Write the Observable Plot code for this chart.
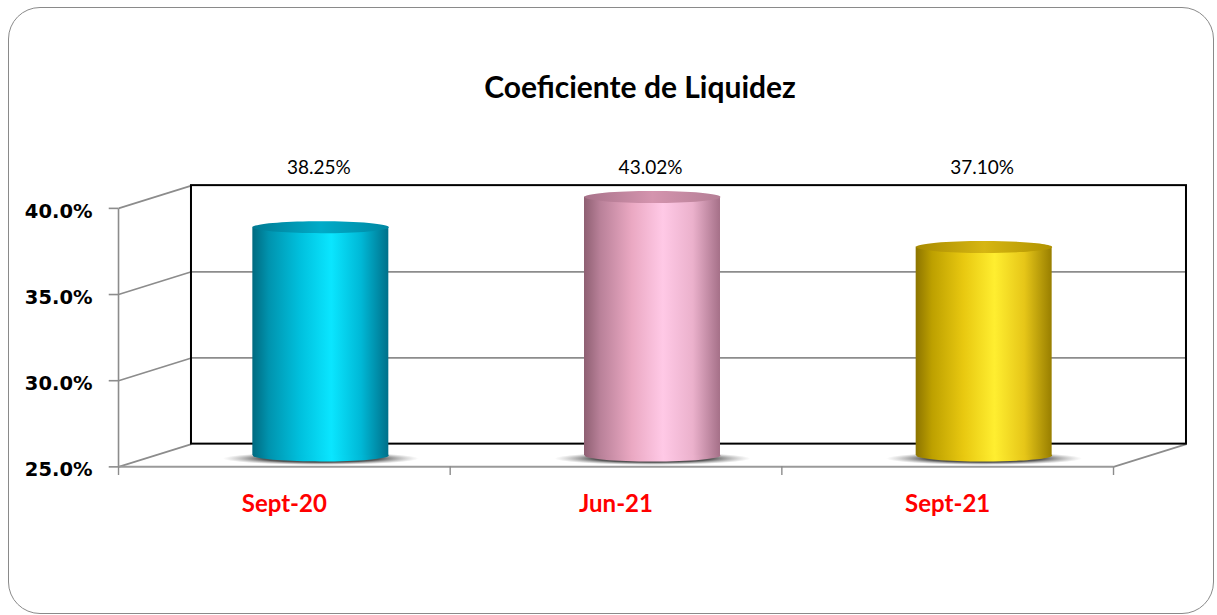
<!DOCTYPE html>
<html>
<head>
<meta charset="utf-8">
<script src="https://cdn.jsdelivr.net/npm/d3@7"></script>
<script src="https://cdn.jsdelivr.net/npm/@observablehq/plot@0.6"></script>
<style>
  html, body { margin: 0; padding: 0; background: #fff; }
  #wrap { position: relative; width: 1217px; height: 615px; overflow: hidden; background: #fff; }
  #frame { position: absolute; left: 8px; top: 7px; width: 1206px; height: 607px; box-sizing: border-box;
           border: 1.5px solid #8a8a8a; border-radius: 32px; }
  #chart { position: absolute; left: 0; top: 0; }
  #title { position: absolute; left: 0; top: 68px; width: 1280px; text-align: center;
           font-family: Lato, "Open Sans", sans-serif; font-weight: bold; font-size: 30px; line-height: 36px; color: #000; }
</style>
</head>
<body>
<div id="wrap">
  <div id="frame"></div>
  <div id="chart"></div>
  <div id="title">Coeficiente de Liquidez</div>
</div>
<script>
// ---- data ----
const categories = ["Sept-20", "Jun-21", "Sept-21"];
const values = [38.25, 43.02, 37.10];
const valueLabels = ["38.25%", "43.02%", "37.10%"];
const yTicks = [25, 30, 35, 40];
const yTickLabels = ["25.0%", "30.0%", "35.0%", "40.0%"];
const Y_MIN = 25, Y_MAX = 40;

// ---- styles ----
const bodyStops = [
  [[0, "#006a80"], [0.12, "#0093ae"], [0.35, "#00c0dd"], [0.58, "#0ae6ff"], [0.8, "#00b8d6"], [1, "#00708a"]],
  [[0, "#8e5f72"], [0.12, "#b98199"], [0.35, "#eaa8c2"], [0.58, "#ffc9e6"], [0.8, "#ebb1cc"], [1, "#a57088"]],
  [[0, "#8c7400"], [0.12, "#bda000"], [0.35, "#e8c810"], [0.58, "#ffee30"], [0.8, "#e6c618"], [1, "#987e00"]]
];
const capStops = [
  [[0, "#007a93"], [0.5, "#00abc8"], [1, "#0087a2"]],
  [[0, "#a8728a"], [0.5, "#d494ae"], [1, "#b47e95"]],
  [[0, "#a88a00"], [0.5, "#d6b612"], [1, "#b09200"]]
];
const GRAY = "#8c8c8c";
const DX = 0.11;      // depth offset in x units
const DY = 0.66;      // depth offset in y units
const HALF = 0.205;   // cylinder half width in x units
const TICK = 0.028;

const bars = categories.map((c, i) => ({
  cat: c, i, value: values[i], label: valueLabels[i], top: Math.min(values[i], Y_MAX),
  body: `url(#body${i})`, cap: `url(#cap${i})`
}));
const ticks = yTicks.map((t, k) => ({t, label: yTickLabels[k]}));

function ellipse(rx, ry) {
  const k = 0.5523;
  return {
    draw(ctx) {
      ctx.moveTo(rx, 0);
      ctx.bezierCurveTo(rx, ry * k, rx * k, ry, 0, ry);
      ctx.bezierCurveTo(-rx * k, ry, -rx, ry * k, -rx, 0);
      ctx.bezierCurveTo(-rx, -ry * k, -rx * k, -ry, 0, -ry);
      ctx.bezierCurveTo(rx * k, -ry, rx, -ry * k, rx, 0);
      ctx.closePath();
    }
  };
}

const svg = Plot.plot({
  width: 1217,
  height: 615,
  margin: 0,
  x: {type: "linear", domain: [0, 3], range: [154.5, 1149.5], axis: null},
  y: {type: "linear", domain: [Y_MIN, Y_MAX], range: [455, 196.5], axis: null},
  color: {type: "identity"},
  style: {background: "transparent", overflow: "visible"},
  marks: [
    // left side wall diagonals
    Plot.link(ticks, {x1: () => -DX, y1: d => d.t - DY, x2: () => DX, y2: d => d.t + DY, stroke: GRAY, strokeWidth: 1.6}),
    // back wall gridlines
    Plot.ruleY([30, 35], {y: t => t + DY, x1: () => DX, x2: () => 3 + DX, stroke: GRAY, strokeWidth: 1.8}),
    // front left axis line
    Plot.link([0], {x1: () => -DX, x2: () => -DX, y1: () => Y_MIN - DY, y2: () => Y_MAX - DY, stroke: GRAY, strokeWidth: 1.6}),
    // left tick marks
    Plot.ruleY(ticks, {y: d => d.t - DY, x1: () => -DX - TICK, x2: () => -DX, stroke: GRAY, strokeWidth: 1.6}),
    // floor front edge and right edge
    Plot.link([0], {x1: () => -DX, x2: () => 3 - DX, y1: () => Y_MIN - DY, y2: () => Y_MIN - DY, stroke: "#9a9a9a", strokeWidth: 2}),
    Plot.link([0], {x1: () => 3 - DX, x2: () => 3 + DX, y1: () => Y_MIN - DY, y2: () => Y_MIN + DY, stroke: GRAY, strokeWidth: 1.6}),
    // bottom category ticks
    Plot.ruleX([0, 1, 2, 3], {x: t => t - DX, y1: () => Y_MIN - DY, y2: () => Y_MIN - DY - 0.5, stroke: GRAY, strokeWidth: 1.4}),
    // back wall
    Plot.rect([0], {x1: () => DX, x2: () => 3 + DX, y1: () => Y_MIN + DY, y2: () => Y_MAX + DY, fill: "none", stroke: "#000", strokeWidth: 2}),
    // shadows
    Plot.dot(bars, {x: d => d.i + 0.5, y: () => Y_MIN, dy: 3, r: 1, symbol: ellipse(98, 6.5), fill: () => "url(#shadow)", stroke: "none"}),
    // cylinder bottom
    Plot.dot(bars, {x: d => d.i + 0.5, y: () => Y_MIN, r: 1, symbol: ellipse(68, 6), fill: "body", stroke: "none"}),
    // cylinder body
    Plot.rect(bars, {x1: d => d.i + 0.5 - HALF, x2: d => d.i + 0.5 + HALF, y1: () => Y_MIN, y2: "top", fill: "body"}),
    // cylinder cap
    Plot.dot(bars, {x: d => d.i + 0.5, y: "top", r: 1, symbol: ellipse(68, 6), fill: "cap", stroke: "none"}),
    // value labels
    Plot.text(bars, {x: d => d.i + 0.5, y: () => Y_MAX, dx: -2, dy: -29, text: "label", fill: "#000",
      fontFamily: "Lato, 'Open Sans', sans-serif", fontSize: 19, lineAnchor: "middle", textAnchor: "middle"}),
    // y tick labels
    Plot.text(ticks, {x: () => -DX, y: d => d.t - DY, dx: -26, dy: 3, text: "label", textAnchor: "end", lineAnchor: "middle",
      fill: "#000", fontFamily: "'DejaVu Sans', Verdana, sans-serif", fontWeight: "bold", fontSize: 19.5}),
    // category labels
    Plot.text(bars, {x: d => d.i + 0.5 - DX, y: () => Y_MIN - DY, dy: 37, text: "cat", textAnchor: "middle", lineAnchor: "middle",
      fill: "#ff0000", fontFamily: "Lato, 'Open Sans', sans-serif", fontWeight: "bold", fontSize: 24})
  ]
});

const defs = d3.select(svg).insert("defs", ":first-child");
function addLinear(id, stops) {
  const g = defs.append("linearGradient").attr("id", id)
    .attr("x1", "0").attr("x2", "1").attr("y1", "0").attr("y2", "0");
  stops.forEach(([o, c]) => g.append("stop").attr("offset", o).attr("stop-color", c));
}
bodyStops.forEach((s, i) => addLinear(`body${i}`, s));
capStops.forEach((s, i) => addLinear(`cap${i}`, s));
const rg = defs.append("radialGradient").attr("id", "shadow");
[[0, "#1e1e1e", 0.95], [0.6, "#3a3a3a", 0.85], [1, "#8a8a8a", 0]].forEach(([o, c, op]) =>
  rg.append("stop").attr("offset", o).attr("stop-color", c).attr("stop-opacity", op));

document.getElementById("chart").appendChild(svg);
</script>
</body>
</html>
